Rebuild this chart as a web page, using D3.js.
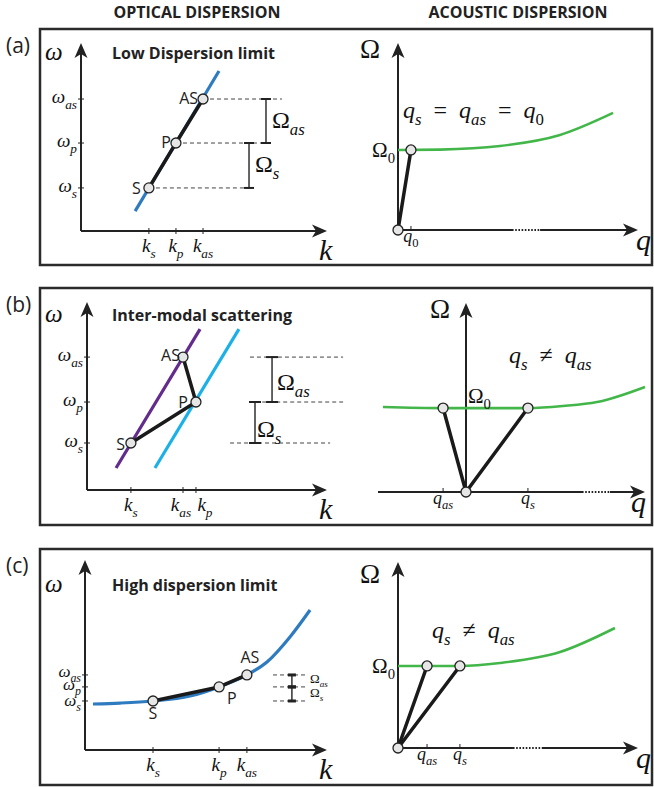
<!DOCTYPE html>
<html>
<head>
<meta charset="utf-8">
<script src="https://cdn.jsdelivr.net/npm/d3@7"></script>
<style>
    body { margin: 0; background: #fff; }
    .box { fill: none; stroke: #2b2b2b; stroke-width: 2.5; }
    .axis { stroke: #222; stroke-width: 2; fill: none; }
    .tick { stroke: #222; stroke-width: 1; }
    .dash { stroke: #444; stroke-width: 1; stroke-dasharray: 4, 3; }
    .brk { stroke: #222; stroke-width: 1.4; }
    .seg { stroke: #1a1a1a; stroke-width: 3.5; fill: none; stroke-linecap: round; stroke-linejoin: round; }
    .pt { fill: #e6e6e6; stroke: #222; stroke-width: 1.3; }
    .math { font-family: "Liberation Serif", "DejaVu Serif", serif; font-style: italic; fill: #111; }
    .sans { font-family: "Open Sans", "Noto Sans", sans-serif; fill: #222; }
</style>
</head>
<body>
<svg id="fig" width="654" height="787"></svg>
<script>
'use strict';

// ---------- data (axis units: 0 at the origin, 100 at the arrow tip) ----------
var subs = ['s', 'p', 'as'];
var names = ['S', 'P', 'AS'];

// optical panels: k and omega of the S, P and AS waves
var kA = [27.6, 38.6, 49.6], wA = [22.9, 46.8, 70.2];
var kB = [18.3, 45.4, 40.0], wB = [25.0, 46.8, 70.7];
var kC = [28.1, 55.4, 66.9], wC = [25.8, 33.2, 39.5];

// optical dispersion branches [k, omega]
var blueA = [[22.0, 10.6], [56.1, 85.1]];
var purpleB = [[12.1, 11.7], [47.1, 85.6]];
var cyanB = [[28.3, 11.7], [63.3, 85.6]];
var blueC = [[3.3, 24.2], [14.5, 24.7], [28.1, 25.8], [43.4, 28.4], [55.4, 33.2],
             [66.9, 39.5], [75.2, 46.3], [84.7, 59.5], [93.0, 73.7]];

// acoustic branches [q, Omega]
var greenA = [[0, 42.8], [17.5, 43.0], [42.5, 44.9], [67.5, 50.8], [89.6, 62.6]];
var greenB = [[-46.4, 45.0], [-12.8, 44.4], [34.6, 44.4], [54.2, 45.5], [73.2, 47.6], [100, 55.6]];
var greenC = [[0, 44.1], [25.8, 44.1], [42.5, 45.7], [67.5, 51.6], [90.4, 64.5]];

// phonon wavevectors and their labels, Omega_0 level
var qA = [5.4], qSubA = ['0'];
var qB = [-12.8, 34.6], qSubB = ['as', 's'];
var qC = [12.1, 25.8], qSubC = ['as', 's'];
var om0 = [42.8, 44.4, 44.1];

var blue = '#2f7bc0', purple = '#622b8c', cyan = '#1cb0e8', green = '#43b64a';

var svg = d3.select('#fig');

/**
 * Math text with subscripts: parts = [[text, isSub, isUpright], ...]
 */
function mathText(g, x, y, parts, size, anchor) {
    var t = g.append('text').attr('class', 'math')
        .attr('x', x).attr('y', y)
        .attr('font-size', size)
        .attr('text-anchor', anchor || 'start');
    var down = false;
    parts.forEach(function (p) {
        var ts = t.append('tspan').text(p[0]);
        if (p[1] && !down) { ts.attr('dy', size * 0.3); down = true; }
        else if (!p[1] && down) { ts.attr('dy', -size * 0.3); down = false; }
        if (p[1]) ts.attr('font-size', size * 0.7);
        if (p[2]) ts.style('font-style', 'normal');
    });
    return t;
}

function arrow(g, x, y, rot) {
    g.append('path')
        .attr('d', 'M0,0L-15,-6.5L-11,0L-15,6.5Z')
        .attr('fill', '#222')
        .attr('transform', 'translate(' + x + ',' + y + ') rotate(' + rot + ')');
}

function bracket(g, x, ya, yb, cap, w) {
    g.append('line').attr('class', 'brk').attr('x1', x).attr('x2', x).attr('y1', ya).attr('y2', yb);
    [ya, yb].forEach(function (yy) {
        g.append('line').attr('class', 'brk').style('stroke-width', w)
            .attr('x1', x - cap / 2).attr('x2', x + cap / 2).attr('y1', yy).attr('y2', yy);
    });
}

function yAxis(g, x0, y0, y1) {
    g.append('line').attr('class', 'axis').attr('x1', x0).attr('y1', y0).attr('x2', x0).attr('y2', y1 + 10);
    arrow(g, x0, y1, -90);
}

/**
 * Left column: optical dispersion
 */
function drawOptical(c) {
    var o = c.o;
    var g = svg.append('g');
    var x = d3.scaleLinear().domain([0, 100]).range([o.x0, o.x1]);
    var y = d3.scaleLinear().domain([0, 100]).range([o.y0, o.y1]);

    yAxis(g, o.x0, o.y0, o.y1);
    g.append('line').attr('class', 'axis').attr('x1', o.x0).attr('y1', o.y0).attr('x2', o.x1 - 10).attr('y2', o.y0);
    arrow(g, o.x1, o.y0, 0);

    g.append('text').attr('class', 'sans').attr('x', 112).attr('y', c.titleY)
        .attr('font-size', 16).attr('font-weight', 700).text(c.title);
    mathText(g, 45, c.titleY + 1, [['ω']], 25);
    mathText(g, 319, o.y0 + 29, [['k']], 30);

    // ticks and labels
    c.k.forEach(function (k, i) {
        g.append('line').attr('class', 'tick').attr('x1', x(k)).attr('x2', x(k)).attr('y1', o.y0 - 3).attr('y2', o.y0 + 3);
        mathText(g, x(k) + c.kDx[i], o.y0 + 21, [['k'], [subs[i], 1]], 19, 'middle');
    });
    c.w.forEach(function (w, i) {
        g.append('line').attr('class', 'tick').attr('x1', o.x0 - 3).attr('x2', o.x0 + 3).attr('y1', y(w)).attr('y2', y(w));
        mathText(g, o.x0 - 4, y(w) + c.wDy[i], [['ω'], [subs[i], 1]], c.wSize, 'end');
    });

    // dashed frequency levels and Omega brackets
    c.dash.forEach(function (d, i) {
        g.append('line').attr('class', 'dash')
            .attr('x1', x(d[0] === null ? c.k[i] : d[0])).attr('x2', x(d[1]))
            .attr('y1', y(c.w[i])).attr('y2', y(c.w[i]));
    });
    bracket(g, x(c.brk[0]), y(c.w[0]), y(c.w[1]), c.cap, c.capW);
    bracket(g, x(c.brk[1]), y(c.w[1]), y(c.w[2]), c.cap, c.capW);
    mathText(g, c.omLab[0][0], c.omLab[0][1], [['Ω', 0, 1], ['s', 1]], c.omSize);
    mathText(g, c.omLab[1][0], c.omLab[1][1], [['Ω', 0, 1], ['as', 1]], c.omSize);

    // dispersion branches
    c.branches.forEach(function (b) {
        var line = d3.line().x(function (d) { return x(d[0]); }).y(function (d) { return y(d[1]); })
            .curve(b.smooth ? d3.curveMonotoneX : d3.curveLinear);
        g.append('path').attr('d', line(b.pts)).attr('fill', 'none')
            .attr('stroke', b.color).attr('stroke-width', 3.2);
    });

    var pts = c.k.map(function (k, i) { return [x(k), y(c.w[i])]; });
    g.append('path').attr('class', 'seg').attr('d', d3.line()(pts));
    g.selectAll('circle.pt').data(pts).join('circle').attr('class', 'pt')
        .attr('cx', function (d) { return d[0]; }).attr('cy', function (d) { return d[1]; }).attr('r', 5);
    pts.forEach(function (p, i) {
        var l = c.ptLab[i];
        g.append('text').attr('class', 'sans').attr('font-size', 16)
            .attr('x', p[0] + l[0]).attr('y', p[1] + l[1]).attr('text-anchor', l[2]).text(names[i]);
    });
}

/**
 * Right column: acoustic dispersion
 */
function drawAcoustic(c) {
    var o = c.o;
    var g = svg.append('g');
    var x = d3.scaleLinear().domain([0, 100]).range([o.x0, o.x1]);
    var y = d3.scaleLinear().domain([0, 100]).range([o.y0, o.y1]);

    yAxis(g, o.x0, o.y0, o.y1);
    // x axis, broken by a dotted stretch
    g.append('line').attr('class', 'axis').attr('x1', o.xs).attr('x2', x(c.dotted[0])).attr('y1', o.y0).attr('y2', o.y0);
    g.append('line').attr('class', 'axis').style('stroke-dasharray', '1.6,1.6')
        .attr('x1', x(c.dotted[0])).attr('x2', x(c.dotted[1])).attr('y1', o.y0).attr('y2', o.y0);
    g.append('line').attr('class', 'axis').attr('x1', x(c.dotted[1])).attr('x2', o.x1 - 10).attr('y1', o.y0).attr('y2', o.y0);
    arrow(g, o.x1, o.y0, 0);

    g.append('text').attr('class', 'math').style('font-style', 'normal').attr('font-size', 27)
        .attr('x', c.omAxis[0]).attr('y', c.omAxis[1]).attr('text-anchor', 'middle').text('Ω');
    mathText(g, c.qLabX, o.y0 + 20, [['q']], 30);

    var line = d3.line().x(function (d) { return x(d[0]); }).y(function (d) { return y(d[1]); })
        .curve(d3.curveMonotoneX);
    g.append('path').attr('d', line(c.green)).attr('fill', 'none')
        .attr('stroke', green).attr('stroke-width', 2.6);

    c.q.forEach(function (q, i) {
        g.append('line').attr('class', 'tick').attr('x1', x(q)).attr('x2', x(q)).attr('y1', o.y0 - 4).attr('y2', o.y0);
        mathText(g, x(q), o.y0 + 12, [['q'], [c.qSub[i], 1, c.qSub[i] === '0']], 18, 'middle');
    });

    mathText(g, c.om0Lab[0], c.om0Lab[1], [['Ω', 0, 1], ['0', 1, 1]], 21, c.om0Lab[2]);
    mathText(g, c.eq[0], c.eq[1], c.eqParts, 24, 'start');

    var pts = c.q.map(function (q) { return [x(q), y(c.om)]; });
    pts.forEach(function (p) {
        g.append('path').attr('class', 'seg').attr('d', d3.line()([[x(0), y(0)], p]));
    });
    g.selectAll('circle.pt').data(pts.concat([[x(0), y(0)]])).join('circle').attr('class', 'pt')
        .attr('cx', function (d) { return d[0]; }).attr('cy', function (d) { return d[1]; }).attr('r', 5);
}

// ---------- frames and headers ----------
[[29, 265, '(a)'], [288, 525, '(b)'], [549, 785, '(c)']].forEach(function (b) {
    svg.append('rect').attr('class', 'box').attr('x', 40).attr('y', b[0]).attr('width', 612).attr('height', b[1] - b[0]);
    svg.append('text').attr('class', 'sans').attr('x', 6).attr('y', b[0] + 24).attr('font-size', 21).text(b[2]);
});
svg.append('text').attr('class', 'sans').attr('x', 197).attr('y', 18).attr('font-size', 16)
    .attr('font-weight', 700).attr('text-anchor', 'middle').text('OPTICAL DISPERSION');
svg.append('text').attr('class', 'sans').attr('x', 518).attr('y', 18).attr('font-size', 16)
    .attr('font-weight', 700).attr('text-anchor', 'middle').text('ACOUSTIC DISPERSION');

// ---------- panels ----------
var eqSpace = '\u2002=\u2002', neSpace = '\u2002≠\u2002';

drawOptical({
    o: {x0: 81, x1: 327, y0: 231, y1: 43}, title: 'Low Dispersion limit', titleY: 59,
    k: kA, w: wA, kDx: [0, 0, 0], wDy: [4, 4, 4], wSize: 19,
    branches: [{pts: blueA, color: blue, smooth: false}],
    dash: [[null, 69.9], [null, 75.6], [null, 81.7]],
    brk: [68.3, 75.2], cap: 10, capW: 2,
    omLab: [[255, 172], [272, 128]], omSize: 24,
    ptLab: [[-8, 6, 'end'], [-5, 5, 'end'], [-5, 5, 'end']]
});
drawOptical({
    o: {x0: 87, x1: 327, y0: 490, y1: 302}, title: 'Inter-modal scattering', titleY: 321,
    k: kB, w: wB, kDx: [0, 9, -2], wDy: [4, 4, 4], wSize: 19,
    branches: [{pts: purpleB, color: purple, smooth: false}, {pts: cyanB, color: cyan, smooth: false}],
    dash: [[59.6, 101.3], [73.0, 106.7], [67.9, 106.7]],
    brk: [70.0, 77.1], cap: 12, capW: 2,
    omLab: [[257, 437], [277, 390]], omSize: 24,
    ptLab: [[-6, 7, 'end'], [-8, 6, 'end'], [-3, 4, 'end']]
});
drawOptical({
    o: {x0: 85, x1: 327, y0: 750, y1: 560}, title: 'High dispersion limit', titleY: 591,
    k: kC, w: wC, kDx: [0, 0, 0], wDy: [5, 3, 2], wSize: 17,
    branches: [{pts: blueC, color: blue, smooth: true}],
    dash: [[77.7, 92.1], [77.7, 92.1], [77.7, 92.1]],
    brk: [85.5, 85.5], cap: 8, capW: 3,
    omLab: [[310, 697], [310, 683]], omSize: 13,
    ptLab: [[0, 18, 'middle'], [8, 17, 'start'], [3, -12, 'middle']]
});

drawAcoustic({
    o: {x0: 398, xs: 398, x1: 638, y0: 230, y1: 43}, qLabX: 636,
    green: greenA, q: qA, qSub: qSubA, om: om0[0], dotted: [47.5, 59.2],
    omAxis: [370, 58], om0Lab: [395, 157, 'end'],
    eq: [403, 118],
    eqParts: [['q'], ['s', 1], [eqSpace, 0, 1], ['q'], ['as', 1], [eqSpace, 0, 1], ['q'], ['0', 1, 1]]
});
drawAcoustic({
    o: {x0: 466, xs: 378, x1: 645, y0: 492, y1: 303}, qLabX: 631,
    green: greenB, q: qB, qSub: qSubB, om: om0[1], dotted: [64.8, 80.4],
    omAxis: [440, 318], om0Lab: [468, 403, 'start'],
    eq: [509, 363],
    eqParts: [['q'], ['s', 1], [neSpace, 0, 1], ['q'], ['as', 1]]
});
drawAcoustic({
    o: {x0: 398, xs: 398, x1: 638, y0: 748, y1: 562}, qLabX: 636,
    green: greenC, q: qC, qSub: qSubC, om: om0[2], dotted: [47.9, 60.0],
    omAxis: [370, 583], om0Lab: [395, 673, 'end'],
    eq: [432, 638],
    eqParts: [['q'], ['s', 1], [neSpace, 0, 1], ['q'], ['as', 1]]
});
</script>
</body>
</html>
